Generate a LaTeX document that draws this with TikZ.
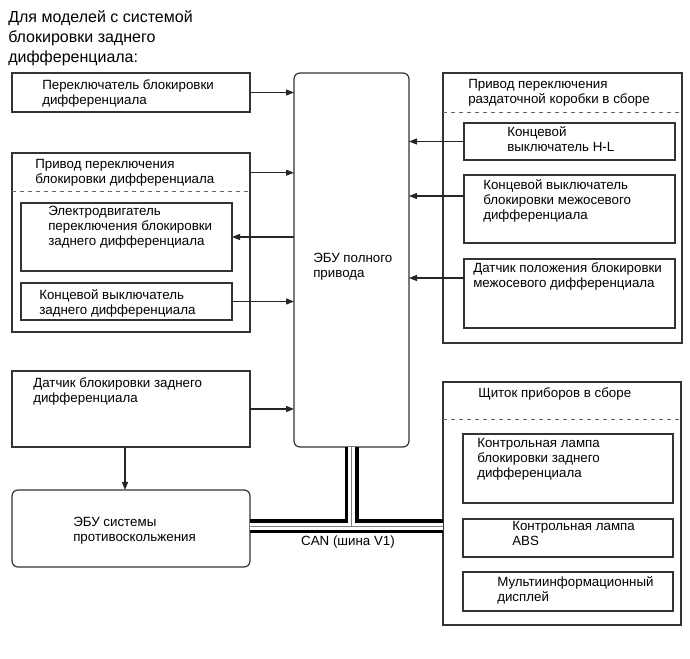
\documentclass[tikz,border=0pt]{standalone}
\usepackage{fontspec}
\setmainfont{Liberation Sans}
\usetikzlibrary{arrows.meta, calc}

\begin{document}
\begin{tikzpicture}[x=0.75pt, y=-0.75pt,
        every node/.style={font=\fontsize{10}{11.25}\selectfont},
        box/.style={draw=black!80, line width=0.9pt, inner sep=0pt, outer sep=0pt, anchor=north west},
        sz/.style 2 args={minimum width=#1*0.75pt, minimum height=#2*0.75pt},
        txt/.style={align=left, anchor=north west, inner sep=0pt},
        sep/.style={draw=black!60, dashed, line width=0.6pt},
        arrow/.style={line width=0.8pt, draw=black!85, -{Triangle[length=6pt, width=4.5pt]}},
        busouter/.style={line width=10.5pt, draw=black},
        businner/.style={line width=5.25pt, draw=white},
        buscore/.style={line width=0.6pt, draw=black!50}
    ]
        \useasboundingbox (0,0) rectangle (690,659);

        \node[txt, font=\fontsize{12}{15}\selectfont] (title) at (8,10) {Для моделей с системой\\блокировки заднего\\дифференциала:};

        \node[box, sz={238}{39}] (b1) at (12,73) {};
        \node[box, sz={115}{374}, rounded corners=4.5pt] (ecu) at (294,73) {};
        \node[box, sz={238}{179}] (b2) at (12,153) {};
        \node[box, sz={211}{68}] (b2a) at (21,203) {};
        \node[box, sz={211}{37}] (b2b) at (21,283) {};
        \node[box, sz={239}{270}] (r1) at (443,73) {};
        \node[box, sz={211}{37}] (r1a) at (464,123) {};
        \node[box, sz={211}{68}] (r1b) at (464,175) {};
        \node[box, sz={211}{69}] (r1c) at (464,259) {};
        \node[box, sz={238}{76}] (b3) at (12,371) {};
        \node[box, sz={238}{77}, rounded corners=4.5pt] (abs) at (12,490) {};
        \node[box, sz={238}{243}] (inst) at (443,382) {};
        \node[box, sz={210}{69}] (ia) at (463,434) {};
        \node[box, sz={210}{38}] (ib) at (463,519) {};
        \node[box, sz={210}{39}] (ic) at (463,572) {};

        \draw[sep] ($(b2.north west)+(0,38)$) -- ($(b2.north east)+(0,38)$);
        \draw[sep] ($(r1.north west)+(0,39)$) -- ($(r1.north east)+(0,39)$);
        \draw[sep] ($(inst.north west)+(0,37)$) -- ($(inst.north east)+(0,37)$);

        \node[txt] (b1t) at (42,79) {Переключатель блокировки\\дифференциала};
        \node[txt] (ecut) at (313,253) {ЭБУ полного\\привода};
        \node[txt] (b2t) at (35,159) {Привод переключения\\блокировки дифференциала};
        \node[txt] (b2at) at (48,206) {Электродвигатель\\переключения блокировки\\заднего дифференциала};
        \node[txt] (b2bt) at (39,289) {Концевой выключатель\\заднего дифференциала};
        \node[txt] (r1t) at (468,79) {Привод переключения\\раздаточной коробки в сборе};
        \node[txt] (r1at) at (507,126) {Концевой\\выключатель H-L};
        \node[txt] (r1bt) at (483,179) {Концевой выключатель\\блокировки межосевого\\дифференциала};
        \node[txt] (r1ct) at (473,262) {Датчик положения блокировки\\межосевого дифференциала};
        \node[txt] (b3t) at (33,377) {Датчик блокировки заднего\\дифференциала};
        \node[txt] (abst) at (73,517) {ЭБУ системы\\противоскольжения};
        \node[txt] (instt) at (478,387) {Щиток приборов в сборе};
        \node[txt] (iat) at (477,438) {Контрольная лампа\\блокировки заднего\\дифференциала};
        \node[txt] (ibt) at (512,521) {Контрольная лампа\\ABS};
        \node[txt] (ict) at (497,576) {Мультиинформационный\\дисплей};

        \coordinate (r1bin) at ($(r1b.north west)+(0,21)$);
        \coordinate (r1cin) at ($(r1c.north west)+(0,19)$);
        \coordinate (b3out) at ($(b3.south)+(-6,0)$);
        \coordinate (tee) at ($(ecu.south)+(0,79.5)$);

        \draw[arrow] (b1.east) -- (b1.east -| ecu.west);
        \draw[arrow] (b2t -| b2.east) -- (b2t -| ecu.west);
        \draw[arrow] (b2a.east -| ecu.west) -- (b2a.east);
        \draw[arrow] (b2b.east) -- (b2b.east -| ecu.west);
        \draw[arrow] (r1a.west) -- (r1a.west -| ecu.east);
        \draw[arrow] (r1bin) -- (r1bin -| ecu.east);
        \draw[arrow] (r1cin) -- (r1cin -| ecu.east);
        \draw[arrow] (b3.east) -- (b3.east -| ecu.west);
        \draw[arrow] (b3out) -- (b3out |- abs.north);

        \draw[busouter] (ecu.south) -- (tee);
        \draw[busouter] (tee -| abs.east) -- (tee -| inst.west);
        \draw[businner] (ecu.south) -- (tee);
        \draw[businner] (tee -| abs.east) -- (tee -| inst.west);
        \draw[buscore] (ecu.south) -- (tee);
        \draw[buscore] (tee -| abs.east) -- (tee -| inst.west);
        \node (can) at (348,542) {CAN (шина V1)};
    \end{tikzpicture}
\end{document}
